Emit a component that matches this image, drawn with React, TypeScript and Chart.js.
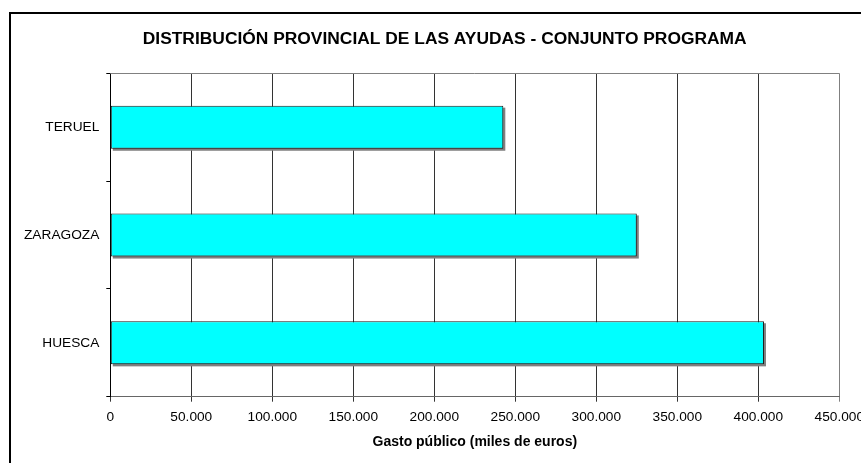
import React, { useEffect, useRef } from "react";
import { Chart, registerables } from "chart.js";

Chart.register(...registerables);

const titleText = "DISTRIBUCIÓN PROVINCIAL DE LAS AYUDAS - CONJUNTO PROGRAMA";
const axisTitle = "Gasto público (miles de euros)";
const provinces = ["TERUEL", "ZARAGOZA", "HUESCA"];
const gastoPublico = [242600, 325000, 403500];
const xMin = 0;
const xMax = 450000;
const xStep = 50000;

const FONT = '"Liberation Sans", Arial, sans-serif';

function formatMiles(v: number): string {
  if (v === 0) return "0";
  const s = Math.round(v).toString();
  return s.replace(/\B(?=(\d{3})+(?!\d))/g, ".");
}

const framePlugin = {
  id: "framePlugin",
  beforeDraw(chart: any) {
    const ctx = chart.ctx;
    ctx.save();
    ctx.fillStyle = "#ffffff";
    ctx.fillRect(0, 0, chart.width, chart.height);
    ctx.restore();
  },
  beforeDatasetsDraw(chart: any) {
    const ctx = chart.ctx;
    ctx.save();
    ctx.fillStyle = "#808080";
    chart.getDatasetMeta(0).data.forEach((el: any) => {
      const p = el.getProps(["x", "y", "base", "height"], true);
      ctx.fillRect(p.base + 2, p.y - p.height / 2 + 2, p.x - p.base, p.height);
    });
    ctx.restore();
  },
  afterDraw(chart: any) {
    const ctx = chart.ctx;
    const a = chart.chartArea;
    ctx.save();
    // outer frame (top and left)
    ctx.fillStyle = "#000000";
    ctx.fillRect(9, 12, chart.width - 9, 2);
    ctx.fillRect(9, 12, 2, chart.height - 12);
    // plot area top border
    ctx.strokeStyle = "#808080";
    ctx.lineWidth = 1;
    ctx.beginPath();
    const ty = Math.round(a.top) + 0.5;
    ctx.moveTo(a.left, ty);
    ctx.lineTo(a.right, ty);
    ctx.stroke();
    // title
    ctx.fillStyle = "#000000";
    ctx.font = `bold 17.4px ${FONT}`;
    ctx.textAlign = "center";
    ctx.textBaseline = "alphabetic";
    ctx.fillText(titleText, 444.7, 44);
    ctx.restore();
  },
};

export default function App() {
  const ref = useRef<HTMLCanvasElement | null>(null);

  useEffect(() => {
    if (!ref.current) return;
    const chart = new Chart(ref.current, {
      type: "bar",
      data: {
        labels: provinces,
        datasets: [
          {
            data: gastoPublico,
            backgroundColor: "#00FFFF",
            borderColor: "#1a1a1a",
            borderWidth: 1,
            borderSkipped: false,
            categoryPercentage: 1,
            barPercentage: 0.4,
          },
        ],
      },
      options: {
        indexAxis: "y",
        responsive: false,
        animation: false,
        layout: { padding: { top: 73.3, right: 21.7, left: 0, bottom: 0 } },
        plugins: {
          legend: { display: false },
          title: { display: false },
          tooltip: { enabled: false },
        },
        scales: {
          x: {
            type: "linear",
            min: xMin,
            max: xMax,
            ticks: {
              stepSize: xStep,
              color: "#000000",
              padding: 7,
              maxRotation: 0,
              font: { family: FONT, size: 13.7 },
              callback: (v: any) => formatMiles(Number(v)),
            },
            grid: {
              color: (ctx: any) =>
                ctx.tick && ctx.tick.value === xMax ? "#808080" : "#333333",
              lineWidth: 1,
              drawTicks: true,
              tickLength: 5,
            },
            border: { display: true, color: "#666666", width: 1 },
            title: {
              display: true,
              text: axisTitle,
              color: "#000000",
              font: { family: FONT, size: 14, weight: "bold" },
              padding: { top: 0, bottom: 12.6 },
            },
            afterFit: (scale: any) => {
              scale.height = 66.3;
              scale.paddingLeft = 0;
              scale.paddingRight = 0;
            },
          },
          y: {
            type: "category",
            ticks: {
              color: "#000000",
              padding: 7,
              font: { family: FONT, size: 13.7 },
            },
            grid: {
              drawOnChartArea: false,
              drawTicks: true,
              tickLength: 4,
              color: "#000000",
              offset: true,
            },
            border: { display: true, color: "#000000", width: 1 },
            afterFit: (scale: any) => {
              scale.width = 110.3;
              scale.paddingTop = 0;
              scale.paddingBottom = 0;
            },
          },
        },
      },
      plugins: [framePlugin],
    } as any);
    return () => chart.destroy();
  }, []);

  return (
    <div style={{ position: "fixed", left: 0, top: 0, width: 861, height: 463 }}>
      <canvas ref={ref} width={861} height={463} style={{ display: "block" }} />
    </div>
  );
}
